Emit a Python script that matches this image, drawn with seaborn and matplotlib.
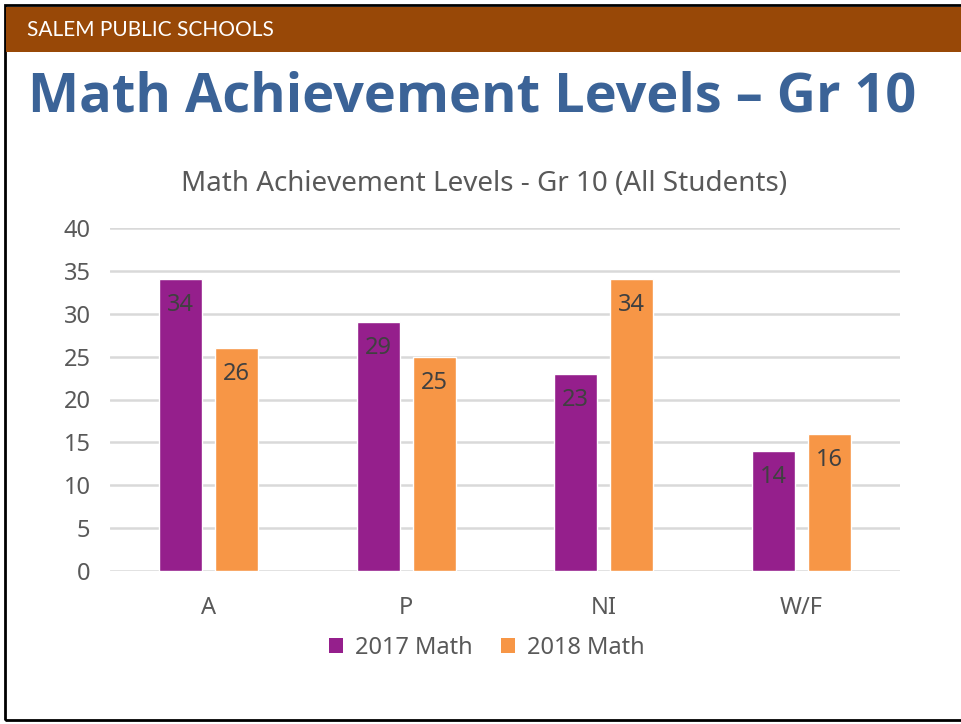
import matplotlib
matplotlib.use("Agg")
import matplotlib.pyplot as plt
import seaborn as sns
import pandas as pd
from matplotlib.patches import Rectangle, Patch

levels = ["A", "P", "NI", "W/F"]
math_2017 = [34, 29, 23, 14]
math_2018 = [26, 25, 34, 16]
series = ["2017 Math", "2018 Math"]
colors = {"2017 Math": "#951F8C", "2018 Math": "#F79646"}

df = pd.DataFrame({
    "level": levels * 2,
    "value": math_2017 + math_2018,
    "year": [series[0]] * 4 + [series[1]] * 4,
})

sns.set_theme(style="white")
plt.rcParams["font.family"] = ["Noto Sans", "DejaVu Sans"]

W, H = 961, 724
fig = plt.figure(figsize=(W / 100, H / 100), dpi=100)
fig.patch.set_facecolor("white")

# slide frame + header band
fig.add_artist(Rectangle((5 / W, 1 - 720 / H), 1, 715 / H, transform=fig.transFigure,
                         fill=False, edgecolor="black", linewidth=2))
fig.add_artist(Rectangle((6 / W, 1 - 52 / H), 1, 45 / H, transform=fig.transFigure,
                         facecolor="#984807", edgecolor="none"))
fig.text(27 / W, 1 - 30 / H, "SALEM PUBLIC SCHOOLS", color="white", fontsize=15,
         va="center", ha="left", family=["Lato", "DejaVu Sans"])
fig.text(472 / W, 1 - 97 / H, "Math Achievement Levels – Gr 10", color="#3B6397",
         fontsize=39, fontweight="bold", ha="center", va="center",
         family=["Open Sans", "DejaVu Sans"])
fig.text(484 / W, 1 - 184 / H, "Math Achievement Levels - Gr 10 (All Students)",
         color="#595959", fontsize=20, ha="center", va="center")

ax = fig.add_axes([110 / W, 1 - 571 / H, 790 / W, 343 / H])
sns.barplot(data=df, x="level", y="value", hue="year", palette=colors,
            width=0.567, gap=0.23, saturation=1, ax=ax, legend=False)

for cont in ax.containers:
    for rect in cont:
        ax.annotate(f"{rect.get_height():.0f}",
                    (rect.get_x() + rect.get_width() / 2, rect.get_height()),
                    xytext=(0, -10), textcoords="offset points",
                    ha="center", va="top", fontsize=17, color="#404040")

ax.set_ylim(0, 40)
ax.set_xlim(-0.5, 3.5)
ax.set_yticks(range(0, 41, 5))
ax.yaxis.grid(True, color="#D9D9D9", linewidth=1.8)
ax.set_axisbelow(True)
for s in ax.spines.values():
    s.set_visible(False)
ax.set_xlabel("")
ax.set_ylabel("")
ax.tick_params(axis="both", length=0, labelsize=17, colors="#595959")
ax.tick_params(axis="x", pad=18)
ax.tick_params(axis="y", pad=14)

handles = [Patch(facecolor=colors[s], edgecolor="none", label=s) for s in series]
fig.legend(handles=handles, loc="center", bbox_to_anchor=(487 / W, 1 - 648 / H), ncol=2,
           frameon=False, fontsize=17, handlelength=0.6, handleheight=0.6,
           handletextpad=0.5, columnspacing=1.2, labelcolor="#595959")

fig.savefig("out.png", dpi=100)
